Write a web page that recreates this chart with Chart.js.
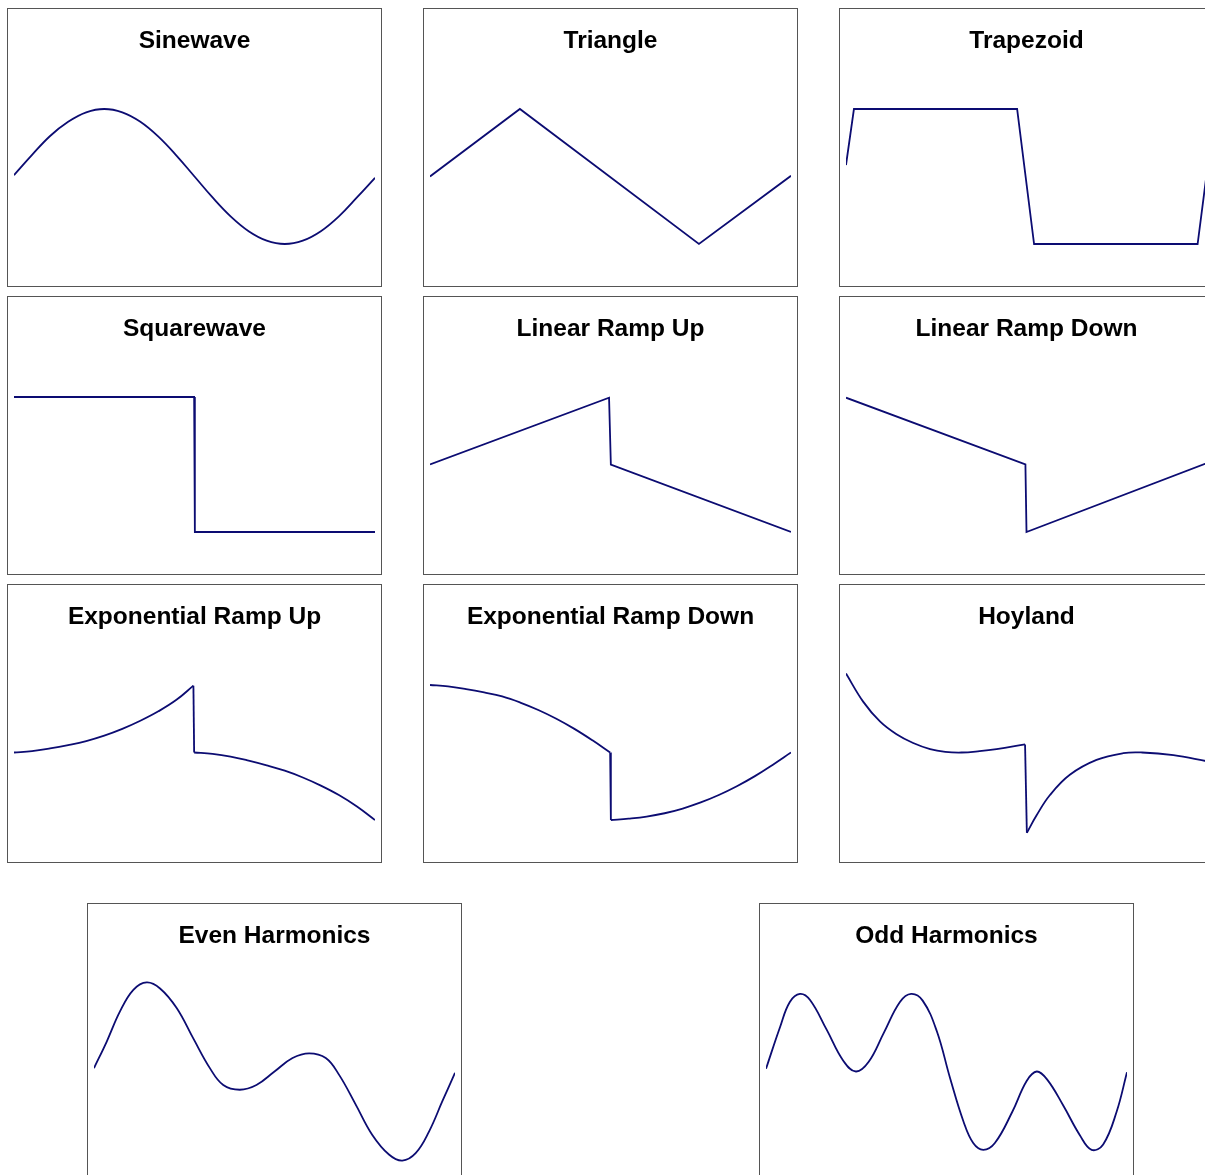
<!DOCTYPE html>
<html>
<head>
<meta charset="utf-8">
<script src="https://cdn.jsdelivr.net/npm/chart.js@4"></script>
<style>
  html, body { margin: 0; padding: 0; background: #fff; overflow: hidden; }
  body { width: 1205px; height: 1175px; position: relative; }
  .box {
    position: absolute;
    width: 375px;
    height: 279px;
    box-sizing: border-box;
    border: 1px solid #555;
    background: #fff;
  }
  .box canvas { display: block; }
</style>
</head>
<body>
<script>
// Each waveform is a list of pieces; a piece is a list of [x, y] points.
// x runs over one period (0..100), y is the level (+1 / -1 = sine peak / trough).
// Pieces are drawn on their own, and joined by straight steps.

const sinewave = [[
  [0, 0.02], [5, 0.32], [10, 0.6], [15, 0.81], [20, 0.95], [25, 1], [30, 0.95],
  [35, 0.81], [40, 0.59], [45, 0.31], [50, 0], [55, -0.31], [60, -0.59],
  [65, -0.81], [70, -0.95], [75, -1], [80, -0.95], [85, -0.81], [90, -0.59],
  [95, -0.31], [100, -0.02]
]];

const triangle = [[[0, 0], [24.9, 1], [74.5, -1], [100, 0.01]]];

const trapezoid = [[[0, 0.17], [2.2, 1], [47.4, 1], [52.1, -1], [97.4, -1], [100, 0.08]]];

const squarewave = [[[0, 1], [49.9, 1], [50.1, -1], [100, -1]]];

const linearRampUp = [[[0, 0], [49.6, 0.99], [50.1, 0], [100, -1]]];

const linearRampDown = [[[0, 0.99], [49.7, 0], [50, -1], [100, 0.02]]];

const expRampUp = [
  [[0, 0], [5, 0.02], [10, 0.06], [15, 0.11], [20, 0.17], [25, 0.25], [30, 0.35],
   [35, 0.47], [40, 0.61], [45, 0.78], [49.7, 0.99]],
  [[49.9, 0], [55, -0.02], [60, -0.06], [65, -0.12], [70, -0.19], [75, -0.27],
   [80, -0.37], [85, -0.49], [90, -0.63], [95, -0.8], [100, -1]]
];

const expRampDown = [
  [[0, 1], [5, 0.98], [10, 0.94], [15, 0.89], [20, 0.83], [25, 0.74], [30, 0.63],
   [35, 0.5], [40, 0.35], [45, 0.18], [49.9, 0]],
  [[50.1, -1], [55, -0.98], [60, -0.95], [65, -0.9], [70, -0.83], [75, -0.74],
   [80, -0.63], [85, -0.5], [90, -0.35], [95, -0.18], [100, 0]]
];

const hoyland = [
  [[0, 1.17], [4.8, 0.75], [9.4, 0.46], [14, 0.27], [18.6, 0.14], [23.3, 0.05],
   [27.5, 0.01], [32, 0], [37, 0.02], [41.7, 0.05], [49.6, 0.12]],
  [[50.1, -1.19], [52.8, -0.93], [56.5, -0.63], [62, -0.33], [69.4, -0.11],
   [76.8, -0.01], [82, 0], [90.7, -0.04], [100, -0.13]]
];

const evenHarmonics = [[
  [0, 0.05], [3.5, 0.44], [7.2, 0.89], [10.9, 1.21], [14.6, 1.32], [18.3, 1.23],
  [22.9, 0.94], [27.5, 0.49], [32.1, 0.05], [35.8, -0.2], [40.4, -0.27],
  [45, -0.2], [50, 0], [55, 0.2], [59.6, 0.27], [64.2, 0.2], [67.9, -0.05],
  [72.5, -0.49], [77.1, -0.94], [81.7, -1.23], [85.4, -1.32], [89.1, -1.21],
  [92.8, -0.89], [96.5, -0.44], [100, -0.02]
]];

const oddHarmonics = [[
  [0, 0.04], [3.9, 0.66], [6.6, 1.03], [9.4, 1.15], [12.2, 1.06], [16.8, 0.62],
  [21.4, 0.16], [24.9, 0], [28.4, 0.14], [32.7, 0.58], [37.1, 1.03], [40.2, 1.15],
  [43.4, 1.05], [47.3, 0.6], [51, -0.1], [54.7, -0.74], [57.4, -1.06],
  [60.2, -1.16], [63.4, -1.06], [68.2, -0.6], [72.2, -0.14], [75, 0],
  [77.9, -0.12], [82.3, -0.5], [86.9, -0.94], [90.2, -1.16], [93.4, -1.08],
  [97.1, -0.6], [100, -0.01]
]];

const titles = [
  "Sinewave", "Triangle", "Trapezoid",
  "Squarewave", "Linear Ramp Up", "Linear Ramp Down",
  "Exponential Ramp Up", "Exponential Ramp Down", "Hoyland",
  "Even Harmonics", "Odd Harmonics"
];
const waves = [
  sinewave, triangle, trapezoid,
  squarewave, linearRampUp, linearRampDown,
  expRampUp, expRampDown, hoyland,
  evenHarmonics, oddHarmonics
];
const smooth = [true, false, false, false, false, false, true, true, true, true, true];

// box positions on the page
const boxLeft = [7, 423, 839, 7, 423, 839, 7, 423, 839, 87, 759];
const boxTop = [8, 8, 8, 296, 296, 296, 584, 584, 584, 903, 903];

const lineColor = "#0c0c72";

function toPoints(piece) {
  return piece.map(([x, y]) => ({ x: x, y: y }));
}

function buildDatasets(pieces, isSmooth) {
  const sets = [];
  pieces.forEach((piece, i) => {
    sets.push({
      data: toPoints(piece),
      borderColor: lineColor,
      borderWidth: 1.8,
      pointRadius: 0,
      fill: false,
      tension: isSmooth ? 0.4 : 0,
    });
    // straight step into the next piece
    if (i < pieces.length - 1) {
      const next = pieces[i + 1];
      sets.push({
        data: toPoints([piece[piece.length - 1], next[0]]),
        borderColor: lineColor,
        borderWidth: 1.8,
        pointRadius: 0,
        fill: false,
        tension: 0,
      });
    }
  });
  return sets;
}

function drawPanel(i) {
  const box = document.createElement("div");
  box.className = "box";
  box.style.left = boxLeft[i] + "px";
  box.style.top = boxTop[i] + "px";
  const canvas = document.createElement("canvas");
  canvas.width = 373;
  canvas.height = 277;
  box.appendChild(canvas);
  document.body.appendChild(box);

  new Chart(canvas, {
    type: "line",
    data: { datasets: buildDatasets(waves[i], smooth[i]) },
    options: {
      responsive: false,
      animation: false,
      events: [],
      layout: { padding: { left: 6, right: 6, top: 0, bottom: 8.25 } },
      plugins: {
        legend: { display: false },
        tooltip: { enabled: false },
        title: {
          display: true,
          text: titles[i],
          color: "#000",
          font: { family: "'Liberation Sans', Arial, sans-serif", size: 24.5, weight: "bold", lineHeight: 1.2 },
          padding: { top: 18, bottom: 18.85 },
        },
      },
      scales: {
        x: { type: "linear", min: 0, max: 100, display: false },
        y: { type: "linear", min: -1.5, max: 1.5, display: false },
      },
    },
  });
}

for (let i = 0; i < titles.length; i++) {
  drawPanel(i);
}
</script>
</body>
</html>
